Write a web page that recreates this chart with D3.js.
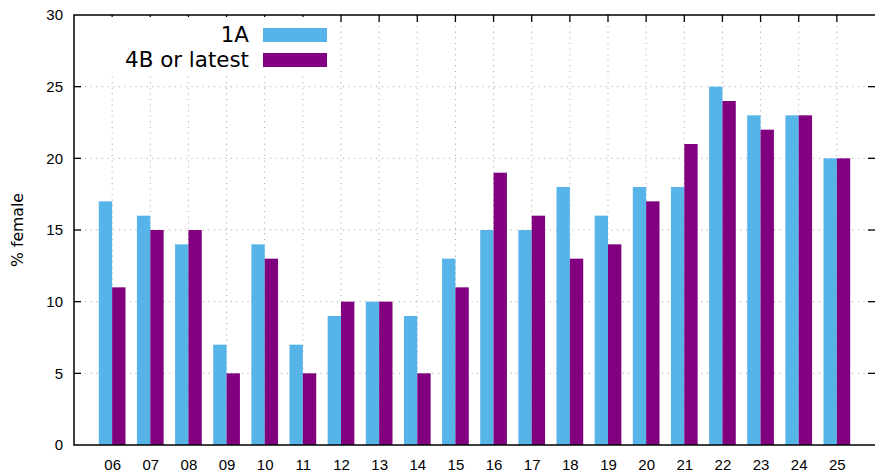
<!DOCTYPE html>
<html>
<head>
<meta charset="utf-8">
<script src="https://cdn.jsdelivr.net/npm/d3@7"></script>
<style>
  body { margin: 0; background: #fff; }
  svg { display: block; font-family: "DejaVu Sans", sans-serif; }
</style>
</head>
<body>
<div id="chart"></div>
<script>
let years = ["06","07","08","09","10","11","12","13","14","15","16","17","18","19","20","21","22","23","24","25"];
let first_year = [17,16,14,7,14,7,9,10,9,13,15,15,18,16,18,18,25,23,23,20];
let latest = [11,15,15,5,13,5,10,10,5,11,19,16,13,14,17,21,24,22,23,20];
let yTicks = [0,5,10,15,20,25,30];
let seriesNames = ["1A","4B or latest"];
let colors = ["#56b4e9","#800080"];

function chart(){
  let width = 875, height = 473;
  let margin = ({top: 15, right: 0, bottom: 28, left: 74});
  let x = d3.scaleLinear()
    .domain([-1, years.length])
    .range([margin.left, width - margin.right]);
  let step = x(1) - x(0);
  let barW = step * 0.35;
  let y = d3.scaleLinear()
    .domain([0, 30])
    .range([height - margin.bottom, margin.top]);

  const svg = d3.select("#chart").append("svg")
    .attr("width", width)
    .attr("height", height);

  // grid
  let grid = svg.append("g")
    .attr("stroke", "#a0a0a0")
    .attr("stroke-width", 1)
    .attr("stroke-dasharray", "1,4.6");
  grid.selectAll(".hg")
    .data(yTicks.slice(1, -1))
    .join("line")
    .attr("x1", margin.left).attr("x2", width)
    .attr("y1", d => y(d)).attr("y2", d => y(d));
  grid.selectAll(".vg")
    .data(years)
    .join("line")
    .attr("x1", (d, i) => x(i)).attr("x2", (d, i) => x(i))
    .attr("y1", margin.top).attr("y2", y(0));

  // bars
  let series = [first_year, latest];
  series.forEach(function(vals, s){
    svg.append("g")
      .attr("fill", colors[s])
      .selectAll("rect")
      .data(vals)
      .join("rect")
      .attr("x", (d, i) => x(i) - barW + s * barW)
      .attr("width", barW)
      .attr("y", d => y(d))
      .attr("height", d => y(0) - y(d));
  });

  // axes
  let xAxis = g => g
    .attr("transform", `translate(0,${y(0)})`)
    .call(d3.axisBottom(x).tickValues(d3.range(years.length)).tickFormat(i => years[i]).tickSize(0).tickPadding(14).tickSizeOuter(0))
    .call(g => g.select(".domain").remove())
    .call(g => g.selectAll("text").attr("font-size", 15).attr("fill", "#000"));

  let yAxis = g => g
    .attr("transform", `translate(${margin.left},0)`)
    .call(d3.axisLeft(y).tickValues(yTicks).tickSize(0).tickPadding(11))
    .call(g => g.select(".domain").remove())
    .call(g => g.selectAll("text").attr("font-size", 15).attr("fill", "#000"));

  svg.append("g").call(xAxis);
  svg.append("g").call(yAxis);

  // tick marks (inward, mirrored)
  let ticks = svg.append("g").attr("stroke", "#000").attr("stroke-width", 1.3);
  ticks.selectAll(".yt")
    .data(yTicks.slice(1, -1))
    .join("line")
    .attr("x1", margin.left).attr("x2", margin.left + 7)
    .attr("y1", d => y(d)).attr("y2", d => y(d));
  ticks.selectAll(".yr")
    .data(yTicks.slice(1, -1))
    .join("line")
    .attr("x1", width - 7).attr("x2", width)
    .attr("y1", d => y(d)).attr("y2", d => y(d));
  ticks.selectAll(".xt")
    .data(years)
    .join("line")
    .attr("x1", (d, i) => x(i)).attr("x2", (d, i) => x(i))
    .attr("y1", margin.top).attr("y2", margin.top + 7);

  // border
  svg.append("path")
    .attr("d", `M${width},${margin.top}H${margin.left}V${y(0)}H${width}`)
    .attr("fill", "none")
    .attr("stroke", "#000")
    .attr("stroke-width", 1.5);

  // legend
  let legend = svg.append("g");
  legend.append("rect")
    .attr("x", 95).attr("y", margin.top + 2)
    .attr("width", 237).attr("height", 56)
    .attr("fill", "#fff");
  seriesNames.forEach(function(name, s){
    let ly = 35 + s * 25;
    legend.append("text")
      .attr("x", 249).attr("y", ly)
      .attr("dy", "0.35em")
      .attr("text-anchor", "end")
      .attr("font-size", 21.4)
      .text(name);
    legend.append("rect")
      .attr("x", 263).attr("y", ly - 7)
      .attr("width", 64).attr("height", 14)
      .attr("fill", colors[s]);
  });

  svg.append("text")
    .attr("transform", `translate(23,${(y(0) + y(30)) / 2}) rotate(-90)`)
    .attr("text-anchor", "middle")
    .attr("font-size", 15.7)
    .text("% female");

  return svg.node();
}

chart();
</script>
</body>
</html>
